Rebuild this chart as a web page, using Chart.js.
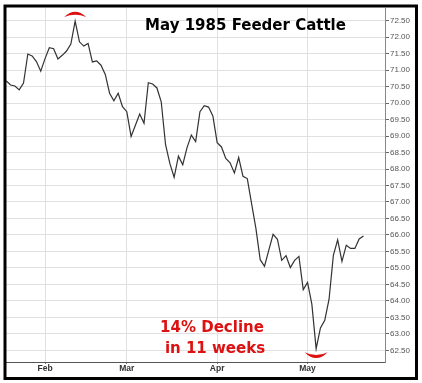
<!DOCTYPE html>
<html>
<head>
<meta charset="utf-8">
<script src="https://cdn.jsdelivr.net/npm/chart.js@4"></script>
<style>
  html, body { margin: 0; padding: 0; background: #ffffff; }
  canvas { display: block; }
</style>
</head>
<body>
<canvas id="c" width="422" height="383" style="width:422px;height:383px"></canvas>
<script>
// ---- data (daily closes, trading-day index) ----
const chartTitle = 'May 1985 Feeder Cattle';
const noteLines = ['14% Decline', 'in 11 weeks'];
const monthLabels = ['Feb', 'Mar', 'Apr', 'May'];
const monthStartIndex = [9, 28, 49, 70];
const prices = [
  70.67, 70.55, 70.52, 70.40, 70.61, 71.49, 71.43, 71.26, 70.97, 71.35,
  71.68, 71.65, 71.34, 71.45, 71.58, 71.79, 72.49, 71.86, 71.73, 71.81,
  71.25, 71.28, 71.15, 70.87, 70.30, 70.07, 70.30, 69.89, 69.74, 68.99,
  69.33, 69.67, 69.39, 70.62, 70.58, 70.46, 70.04, 68.75, 68.17, 67.75,
  68.39, 68.13, 68.65, 69.03, 68.83, 69.74, 69.92, 69.88, 69.61, 68.80,
  68.67, 68.32, 68.19, 67.88, 68.35, 67.78, 67.71, 66.95, 66.20, 65.25,
  65.05, 65.54, 66.02, 65.87, 65.23, 65.37, 65.01, 65.23, 65.35, 64.34,
  64.56, 63.90, 62.55, 63.18, 63.41, 64.05, 65.38, 65.85, 65.20, 65.69,
  65.59, 65.59, 65.88, 65.97
];
const yTickValues = [62.5, 63, 63.5, 64, 64.5, 65, 65.5, 66, 66.5, 67, 67.5,
  68, 68.5, 69, 69.5, 70, 70.5, 71, 71.5, 72, 72.5];

const RED = '#dd1111';

const decoPlugin = {
  id: 'deco',
  afterDraw(chart) {
    const ctx = chart.ctx;
    const xs = chart.scales.x, ys = chart.scales.y;
    ctx.save();
    // peak & trough crescents
    const peakI = prices.indexOf(Math.max(...prices));
    const lowI = prices.indexOf(Math.min(...prices));
    const px = xs.getPixelForValue(peakI), py = ys.getPixelForValue(prices[peakI]);
    const lx = xs.getPixelForValue(lowI), ly = ys.getPixelForValue(prices[lowI]);
    ctx.fillStyle = RED;
    ctx.beginPath();
    ctx.moveTo(px - 11, py - 4);
    ctx.quadraticCurveTo(px, py - 14.6, px + 11, py - 4);
    ctx.quadraticCurveTo(px, py - 8.6, px - 11, py - 4);
    ctx.closePath();
    ctx.fill();
    ctx.beginPath();
    ctx.moveTo(lx - 11.5, ly + 3.5);
    ctx.quadraticCurveTo(lx, ly + 15.3, lx + 11.5, ly + 3.5);
    ctx.quadraticCurveTo(lx, ly + 9.3, lx - 11.5, ly + 3.5);
    ctx.closePath();
    ctx.fill();

    // title
    ctx.fillStyle = '#000';
    ctx.font = 'bold 15px "DejaVu Sans"';
    ctx.textAlign = 'center';
    ctx.textBaseline = 'alphabetic';
    ctx.fillText(chartTitle, 245.5, 29.5);

    // red note
    ctx.fillStyle = RED;
    ctx.fillText(noteLines[0], 212, 331.5);
    ctx.fillText(noteLines[1], 215, 353);

    // black frame
    ctx.strokeStyle = '#000';
    ctx.lineWidth = 3;
    ctx.strokeRect(5, 6, 411.5, 372.5);
    ctx.restore();
  }
};

new Chart(document.getElementById('c'), {
  type: 'line',
  data: {
    datasets: [{
      data: prices.map((v, i) => ({ x: i, y: v })),
      borderColor: '#333333',
      borderWidth: 1.2,
      pointRadius: 0,
      tension: 0,
      fill: false
    }]
  },
  options: {
    responsive: false,
    animation: false,
    layout: { padding: { left: 6, top: 8, right: 4, bottom: 4 } },
    plugins: { legend: { display: false }, tooltip: { enabled: false }, title: { display: false } },
    scales: {
      x: {
        type: 'linear',
        min: -0.07,
        max: 88,
        afterBuildTicks(scale) { scale.ticks = monthStartIndex.map(v => ({ value: v })); },
        afterFit(scale) { scale.height = 17; },
        ticks: {
          autoSkip: false,
          maxRotation: 0,
          padding: 0,
          color: '#333',
          font: { family: 'Liberation Sans', size: 8.5, weight: 'bold' },
          callback(v) { const k = monthStartIndex.indexOf(v); return k >= 0 ? monthLabels[k] : ''; }
        },
        grid: { color: '#e0e0e0', lineWidth: 1, tickLength: 2, tickColor: '#777' },
        border: { color: '#555', width: 1 }
      },
      y: {
        position: 'right',
        min: 62.145,
        max: 72.886,
        afterBuildTicks(scale) { scale.ticks = yTickValues.map(v => ({ value: v })); },
        afterFit(scale) { scale.width = 33; },
        ticks: {
          padding: 1,
          color: '#555',
          font: { family: 'Liberation Sans', size: 8 },
          callback(v) { return Number(v).toFixed(2); }
        },
        grid: { color: '#e0e0e0', lineWidth: 1, tickLength: 4, tickColor: '#666' },
        border: { color: '#888', width: 1 }
      }
    }
  },
  plugins: [decoPlugin]
});
</script>
</body>
</html>
